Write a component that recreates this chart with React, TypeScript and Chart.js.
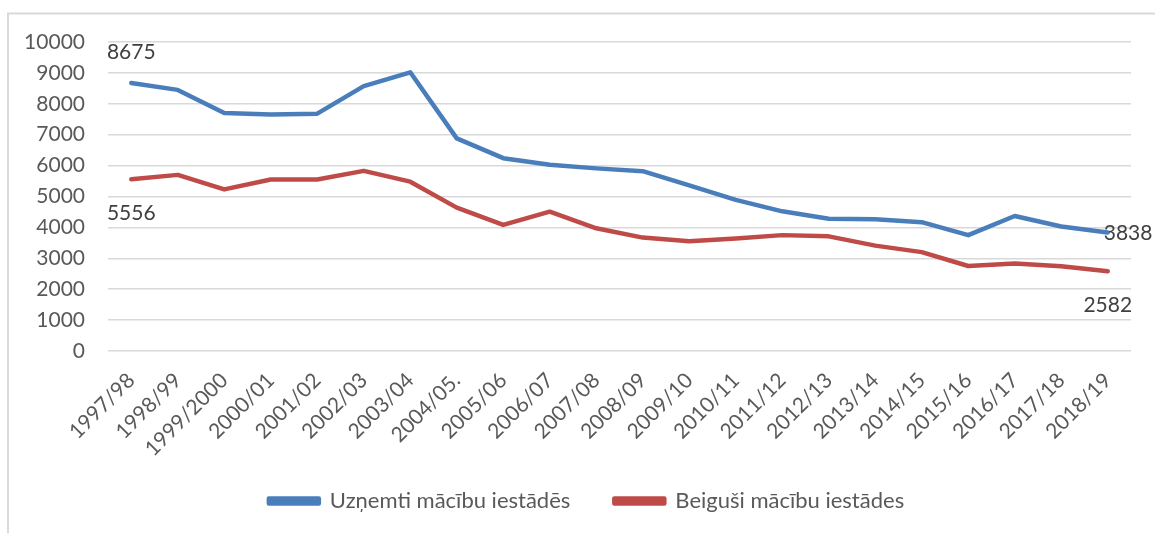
import React, { useEffect, useRef } from "react";
import { Chart, registerables } from "chart.js";

Chart.register(...registerables);

const categories = [
  "1997/98", "1998/99", "1999/2000", "2000/01", "2001/02", "2002/03", "2003/04",
  "2004/05.", "2005/06", "2006/07", "2007/08", "2008/09", "2009/10", "2010/11",
  "2011/12", "2012/13", "2013/14", "2014/15", "2015/16", "2016/17", "2017/18", "2018/19",
];
const admitted = [
  8675, 8450, 7700, 7650, 7680, 8570, 9020, 6880, 6240, 6030, 5910, 5820, 5360,
  4890, 4520, 4280, 4260, 4170, 3750, 4370, 4030, 3838,
];
const graduated = [
  5556, 5700, 5230, 5550, 5550, 5830, 5480, 4640, 4080, 4510, 3970, 3670, 3550,
  3640, 3750, 3710, 3410, 3200, 2750, 2830, 2740, 2582,
];
const seriesNames = ["Uzņemti mācību iestādēs", "Beiguši mācību iestādes"];
const yMin = 0;
const yMax = 10000;
const yStep = 1000;

const LEGEND_FONT = 22;
const LEGEND_PAD = 44;
const BOTTOM_PAD = 11;
const PLOT_BOTTOM = 351;
const CANVAS_H = 533;
const LEGEND_H = LEGEND_FONT + LEGEND_PAD + 10;

const frameAndLabels = {
  id: "frameAndLabels",
  afterLayout(chart: any) {
    if (chart.legend) {
      chart.legend.left += 21;
      chart.legend.right += 21;
    }
    if (chart.scales.x) {
      chart.scales.x.bottom = chart.height;
    }
  },
  beforeDraw(chart: any) {
    const ctx = chart.ctx;
    ctx.save();
    ctx.fillStyle = "#ffffff";
    ctx.fillRect(0, 0, chart.width, chart.height);
    ctx.strokeStyle = "#d9d9d9";
    ctx.lineWidth = 2;
    ctx.strokeRect(8, 13.5, chart.width + 20, chart.height + 20);
    ctx.restore();
  },
  afterDatasetsDraw(chart: any) {
    const ctx = chart.ctx;
    ctx.save();
    ctx.fillStyle = "#404040";
    ctx.font = "21px Lato";
    ctx.textBaseline = "middle";
    const m0 = chart.getDatasetMeta(0).data;
    const m1 = chart.getDatasetMeta(1).data;
    const n = categories.length - 1;
    ctx.textAlign = "center";
    ctx.fillText(String(admitted[0]), m0[0].x, m0[0].y - 31);
    ctx.fillText(String(graduated[0]), m1[0].x, m1[0].y + 34);
    ctx.textAlign = "left";
    ctx.fillText(String(admitted[n]), m0[n].x - 4, m0[n].y + 1);
    ctx.textAlign = "center";
    ctx.fillText(String(graduated[n]), m1[n].x, m1[n].y + 34);
    ctx.restore();
  },
};

export default function App() {
  const ref = useRef<HTMLCanvasElement | null>(null);
  useEffect(() => {
    if (!ref.current) return;
    const chart = new Chart(ref.current, {
      type: "line",
      data: {
        labels: categories,
        datasets: [
          {
            label: seriesNames[0],
            data: admitted,
            borderColor: "#4a7ebb",
            backgroundColor: "#4a7ebb",
            borderWidth: 4.5,
            pointRadius: 0,
            tension: 0,
            borderJoinStyle: "round",
            borderCapStyle: "round",
          },
          {
            label: seriesNames[1],
            data: graduated,
            borderColor: "#be4b48",
            backgroundColor: "#be4b48",
            borderWidth: 4.5,
            pointRadius: 0,
            tension: 0,
            borderJoinStyle: "round",
            borderCapStyle: "round",
          },
        ],
      },
      options: {
        animation: false,
        responsive: false,
        devicePixelRatio: 1,
        events: [],
        layout: { padding: { top: 42, bottom: BOTTOM_PAD, left: 0, right: 24 } },
        plugins: {
          legend: {
            position: "bottom",
            labels: {
              boxWidth: 50,
              boxHeight: 5,
              padding: LEGEND_PAD,
              color: "#595959",
              font: { family: "Lato", size: LEGEND_FONT },
            },
          },
          tooltip: { enabled: false },
          title: { display: false },
        },
        scales: {
          x: {
            offset: true,
            grid: { display: false },
            border: { display: false },
            ticks: {
              autoSkip: false,
              maxRotation: 45,
              minRotation: 45,
              color: "#595959",
              font: { family: "Lato", size: 21 },
              padding: 9,
            },
            afterFit(scale: any) {
              scale.height = CANVAS_H - BOTTOM_PAD - LEGEND_H - PLOT_BOTTOM;
            },
          },
          y: {
            min: yMin,
            max: yMax,
            grid: { color: "#d9d9d9", lineWidth: 1.5, drawTicks: false },
            border: { display: false },
            ticks: {
              stepSize: yStep,
              color: "#595959",
              font: { family: "Lato", size: 21 },
              padding: 23,
              callback: (v: any) => String(v),
            },
            afterFit(scale: any) {
              scale.width = 108;
            },
          },
        },
      },
      plugins: [frameAndLabels],
    });
    return () => chart.destroy();
  }, []);
  return (
    <div style={{ position: "absolute", left: 0, top: 0, width: 1155, height: 533, background: "#fff" }}>
      <canvas ref={ref} width={1155} height={533} style={{ width: 1155, height: 533, display: "block" }} />
    </div>
  );
}
